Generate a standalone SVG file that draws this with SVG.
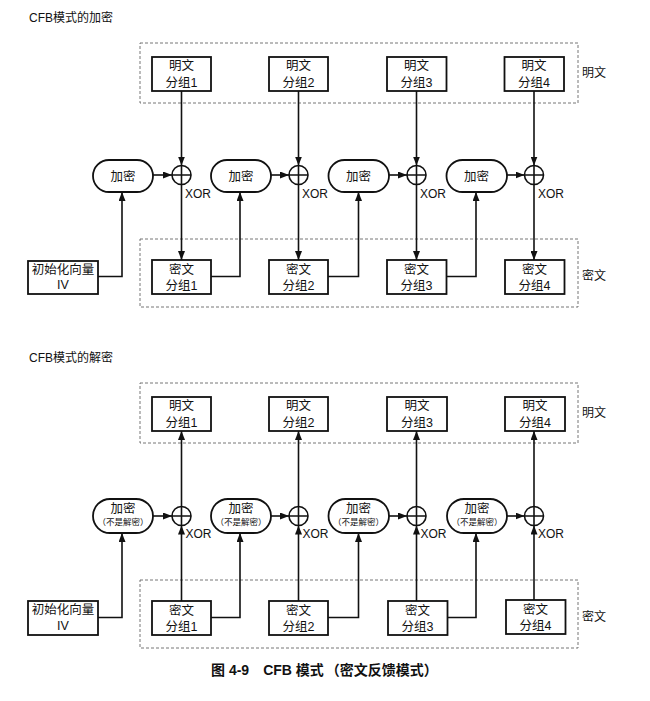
<svg xmlns="http://www.w3.org/2000/svg" width="650" height="701" viewBox="0 0 650 701">
<defs>
  <marker id="ah" markerWidth="9" markerHeight="7" refX="9" refY="3.5" orient="auto" markerUnits="userSpaceOnUse">
    <path d="M0,0 L9,3.5 L0,7 z" fill="#111"/>
  </marker>
  <linearGradient id="gray" x1="1" y1="0" x2="0" y2="1">
    <stop offset="0" stop-color="#f4f4f4"/>
    <stop offset="1" stop-color="#d2d2d2"/>
  </linearGradient>
  <linearGradient id="gray1" x1="1" y1="0" x2="0" y2="1">
    <stop offset="0" stop-color="#ffffff"/>
    <stop offset="1" stop-color="#e6e6e6"/>
  </linearGradient>
</defs>
<style>
  text { font-family: "Liberation Sans", "Noto Sans CJK SC", sans-serif; fill: #111; }
  .t { font-size: 12.5px; text-anchor: middle; }
  .lbl { font-size: 12px; }
  .small { font-size: 8.5px; text-anchor: middle; }
  .box { fill: #fff; stroke: #111; stroke-width: 1.8; }
  .pill { fill: #fff; stroke: #111; stroke-width: 1.8; }
  .dash { fill: none; stroke: #666; stroke-width: 0.9; stroke-dasharray: 3 2; }
  .ln { fill: none; stroke: #111; stroke-width: 1.6; }
  .arr { fill: none; stroke: #111; stroke-width: 1.6; marker-end: url(#ah); }
  .xor { fill: #fff; stroke: #111; stroke-width: 1.6; }
  .cap { font-size: 14px; font-weight: bold; white-space: pre; }
</style>
<rect width="650" height="701" fill="#fff"/>

<!-- ============ Encryption ============ -->
<text class="lbl" x="29" y="22">CFB模式的加密</text>
<rect class="dash" x="140" y="43" width="438" height="60"/>
<rect class="dash" x="140" y="239" width="438" height="68"/>
<text class="lbl" x="582" y="77">明文</text>
<text class="lbl" x="582" y="280">密文</text>

<g id="connectors-enc">
  <line class="arr" x1="181.5" y1="91" x2="181.5" y2="165.5"/>
  <line class="arr" x1="298.5" y1="91" x2="298.5" y2="165.5"/>
  <line class="arr" x1="416.5" y1="91" x2="416.5" y2="165.5"/>
  <line class="arr" x1="534" y1="91" x2="534" y2="165.5"/>
  <line class="arr" x1="181.5" y1="184.5" x2="181.5" y2="260"/>
  <line class="arr" x1="298.5" y1="184.5" x2="298.5" y2="260"/>
  <line class="arr" x1="416.5" y1="184.5" x2="416.5" y2="260"/>
  <line class="arr" x1="534" y1="184.5" x2="534" y2="260"/>
  <line class="arr" x1="153" y1="175" x2="172" y2="175"/>
  <line class="arr" x1="271" y1="175" x2="289" y2="175"/>
  <line class="arr" x1="389" y1="175" x2="407" y2="175"/>
  <line class="arr" x1="507" y1="175" x2="524.5" y2="175"/>
  <polyline class="arr" points="98,276.5 122,276.5 122,192"/>
  <polyline class="arr" points="211,276.5 240,276.5 240,192"/>
  <polyline class="arr" points="328,276.5 358.5,276.5 358.5,192"/>
  <polyline class="arr" points="446.5,276.5 476,276.5 476,192"/>
</g>

<g id="enc-iv"><rect class="box" x="28" y="261" width="70" height="33"/><text class="t" x="63" y="273.5">初始化向量</text><text class="t" x="63" y="289">IV</text></g>

<g id="enc-p1"><rect class="box" x="152" y="57" width="59" height="34"/><text class="t" x="181.5" y="70">明文</text><text class="t" x="181.5" y="86.5">分组1</text></g>
<g id="enc-p2"><rect class="box" x="269" y="57" width="59" height="34"/><text class="t" x="298.5" y="70">明文</text><text class="t" x="298.5" y="86.5">分组2</text></g>
<g id="enc-p3"><rect class="box" x="387" y="57" width="59.5" height="34"/><text class="t" x="416.5" y="70">明文</text><text class="t" x="416.5" y="86.5">分组3</text></g>
<g id="enc-p4"><rect class="box" x="504.5" y="57" width="59.5" height="34"/><text class="t" x="534" y="70">明文</text><text class="t" x="534" y="86.5">分组4</text></g>

<g id="enc-c1"><rect class="box" x="152" y="260" width="59" height="34"/><text class="t" x="181.5" y="273.5">密文</text><text class="t" x="181.5" y="289.5">分组1</text></g>
<g id="enc-c2"><rect class="box" x="269" y="260" width="59" height="34"/><text class="t" x="298.5" y="273.5">密文</text><text class="t" x="298.5" y="289.5">分组2</text></g>
<g id="enc-c3"><rect class="box" x="387" y="260" width="59.5" height="34"/><text class="t" x="416.5" y="273.5">密文</text><text class="t" x="416.5" y="289.5">分组3</text></g>
<g id="enc-c4"><rect class="box" x="505" y="260" width="59.5" height="34"/><text class="t" x="534.5" y="273.5">密文</text><text class="t" x="534.5" y="289.5">分组4</text></g>

<g id="enc-e1"><rect class="pill" x="93" y="160" width="60" height="32" rx="16"/><text class="t" x="123" y="180.5">加密</text></g>
<g id="enc-e2"><rect class="pill" x="211" y="160" width="60" height="32" rx="16"/><text class="t" x="241" y="180.5">加密</text></g>
<g id="enc-e3"><rect class="pill" x="328.5" y="160" width="60.5" height="32" rx="16"/><text class="t" x="358.5" y="180.5">加密</text></g>
<g id="enc-e4"><rect class="pill" x="446.5" y="160" width="60.5" height="32" rx="16" fill="url(#gray1)"/><text class="t" x="476.5" y="180.5">加密</text></g>

<g id="enc-x1"><circle class="xor" cx="181.5" cy="175" r="9.5"/><path class="ln" d="M172,175 H191 M181.5,165.5 V184.5"/><text class="lbl" x="185" y="197.5">XOR</text></g>
<g id="enc-x2"><circle class="xor" cx="298.5" cy="175" r="9.5"/><path class="ln" d="M289,175 H308 M298.5,165.5 V184.5"/><text class="lbl" x="302" y="197.5">XOR</text></g>
<g id="enc-x3"><circle class="xor" cx="416.5" cy="175" r="9.5"/><path class="ln" d="M407,175 H426 M416.5,165.5 V184.5"/><text class="lbl" x="420" y="197.5">XOR</text></g>
<g id="enc-x4"><circle class="xor" cx="534" cy="175" r="9.5"/><path class="ln" d="M524.5,175 H543.5 M534,165.5 V184.5"/><text class="lbl" x="538" y="197.5">XOR</text></g>

<!-- ============ Decryption ============ -->
<text class="lbl" x="29" y="362">CFB模式的解密</text>
<rect class="dash" x="140" y="383" width="438" height="60"/>
<rect class="dash" x="140" y="580" width="438" height="68"/>
<text class="lbl" x="582" y="417">明文</text>
<text class="lbl" x="582" y="621">密文</text>

<g id="connectors-dec">
  <line class="arr" x1="181.5" y1="601" x2="181.5" y2="525.5"/>
  <line class="arr" x1="298.5" y1="601" x2="298.5" y2="525.5"/>
  <line class="arr" x1="416.5" y1="601" x2="416.5" y2="525.5"/>
  <line class="arr" x1="534" y1="601" x2="534" y2="525.5"/>
  <line class="arr" x1="181.5" y1="506.5" x2="181.5" y2="431"/>
  <line class="arr" x1="298.5" y1="506.5" x2="298.5" y2="431"/>
  <line class="arr" x1="416.5" y1="506.5" x2="416.5" y2="431"/>
  <line class="arr" x1="534" y1="506.5" x2="534" y2="431"/>
  <line class="arr" x1="153" y1="516" x2="172" y2="516"/>
  <line class="arr" x1="271" y1="516" x2="289" y2="516"/>
  <line class="arr" x1="389" y1="516" x2="407" y2="516"/>
  <line class="arr" x1="507" y1="516" x2="524.5" y2="516"/>
  <polyline class="arr" points="98,617.5 122,617.5 122,533"/>
  <polyline class="arr" points="211,617.5 240,617.5 240,533"/>
  <polyline class="arr" points="328,617.5 358.5,617.5 358.5,533"/>
  <polyline class="arr" points="446.5,617.5 476,617.5 476,533"/>
</g>

<g id="dec-iv"><rect class="box" x="28" y="601" width="70" height="34"/><text class="t" x="63" y="614">初始化向量</text><text class="t" x="63" y="630">IV</text></g>

<g id="dec-p1"><rect class="box" x="152" y="397" width="59" height="34"/><text class="t" x="181.5" y="410">明文</text><text class="t" x="181.5" y="426.5">分组1</text></g>
<g id="dec-p2"><rect class="box" x="269" y="397" width="59" height="34"/><text class="t" x="298.5" y="410">明文</text><text class="t" x="298.5" y="426.5">分组2</text></g>
<g id="dec-p3"><rect class="box" x="387" y="397" width="60" height="34"/><text class="t" x="417" y="410">明文</text><text class="t" x="417" y="426.5">分组3</text></g>
<g id="dec-p4"><rect class="box" x="505" y="397" width="60" height="34"/><text class="t" x="535" y="410">明文</text><text class="t" x="535" y="426.5">分组4</text></g>

<g id="dec-c1"><rect class="box" x="152" y="601" width="59" height="34"/><text class="t" x="181.5" y="614.5">密文</text><text class="t" x="181.5" y="630.5">分组1</text></g>
<g id="dec-c2"><rect class="box" x="269" y="601" width="59" height="34"/><text class="t" x="298.5" y="614.5">密文</text><text class="t" x="298.5" y="630.5">分组2</text></g>
<g id="dec-c3"><rect class="box" x="388" y="601" width="59.5" height="34"/><text class="t" x="417.5" y="614.5">密文</text><text class="t" x="417.5" y="630.5">分组3</text></g>
<g id="dec-c4"><rect class="box" x="506" y="600" width="59.5" height="34"/><text class="t" x="535.5" y="613.5">密文</text><text class="t" x="535.5" y="629.5">分组4</text></g>

<g id="dec-e1"><rect class="pill" x="93" y="499" width="60" height="34" rx="17" fill="url(#gray1)"/><text class="t" x="123" y="512.5">加密</text><text class="small" x="123" y="525">（不是解密）</text></g>
<g id="dec-e2"><rect class="pill" x="211" y="499" width="60" height="34" rx="17" fill="url(#gray1)"/><text class="t" x="241" y="512.5">加密</text><text class="small" x="241" y="525">（不是解密）</text></g>
<g id="dec-e3"><rect class="pill" x="328.5" y="499" width="60.5" height="34" rx="17" fill="url(#gray)"/><text class="t" x="358.5" y="512.5">加密</text><text class="small" x="358.5" y="525">（不是解密）</text></g>
<g id="dec-e4"><rect class="pill" x="447" y="499" width="60" height="34" rx="17" fill="url(#gray)"/><text class="t" x="477" y="512.5">加密</text><text class="small" x="477" y="525">（不是解密）</text></g>

<g id="dec-x1"><circle class="xor" cx="181.5" cy="516" r="9.5"/><path class="ln" d="M172,516 H191 M181.5,506.5 V525.5"/><text class="lbl" x="185.5" y="538">XOR</text></g>
<g id="dec-x2"><circle class="xor" cx="298.5" cy="516" r="9.5"/><path class="ln" d="M289,516 H308 M298.5,506.5 V525.5"/><text class="lbl" x="302.5" y="538">XOR</text></g>
<g id="dec-x3"><circle class="xor" cx="416.5" cy="516" r="9.5"/><path class="ln" d="M407,516 H426 M416.5,506.5 V525.5"/><text class="lbl" x="420.5" y="538">XOR</text></g>
<g id="dec-x4"><circle class="xor" cx="534" cy="516" r="9.5"/><path class="ln" d="M524.5,516 H543.5 M534,506.5 V525.5"/><text class="lbl" x="538" y="538">XOR</text></g>

<text class="cap" x="211" y="675">图 4-9<tspan dx="14">CFB 模式</tspan><tspan dx="2">（密文反馈模式）</tspan></text>
</svg>
